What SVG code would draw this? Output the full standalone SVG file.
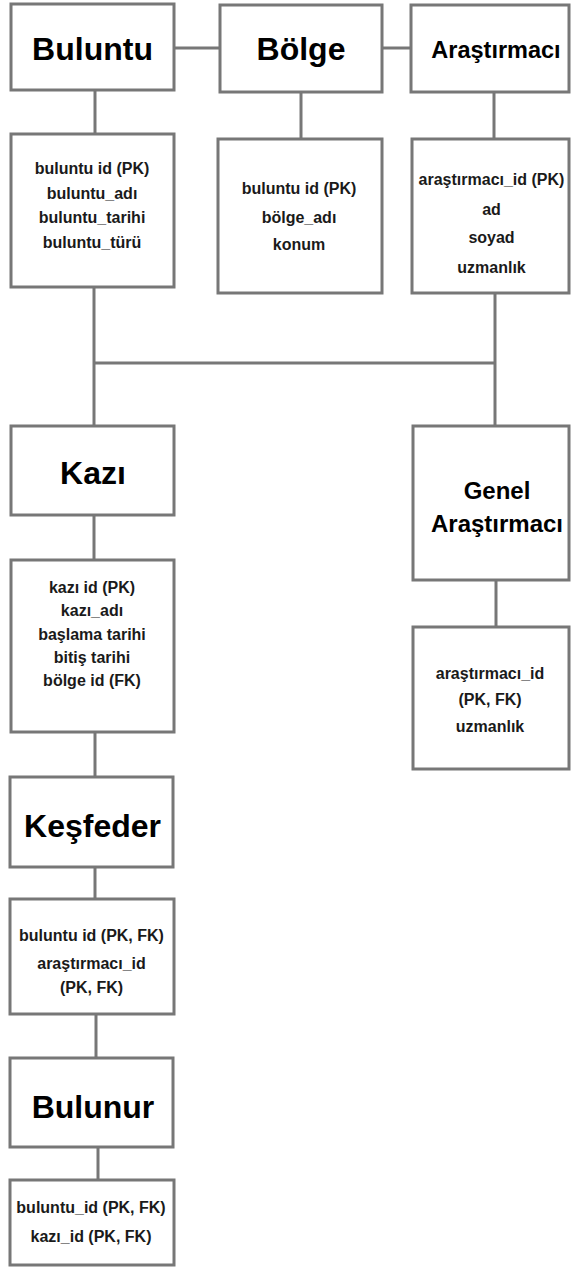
<svg xmlns="http://www.w3.org/2000/svg" width="571" height="1267" viewBox="0 0 571 1267">
<style>
.box{fill:#fff;stroke:#777;stroke-width:3}
.con{fill:none;stroke:#777;stroke-width:3}
.title{font-family:"Liberation Sans",Arial,sans-serif;font-weight:bold;fill:#000;text-anchor:middle}
.t32{font-size:32px}
.t24{font-size:24px}
.attr{font-family:"Liberation Sans",Arial,sans-serif;font-weight:bold;font-size:16px;fill:#1a1a1a;text-anchor:middle}
</style>
<rect width="571" height="1267" fill="#fff"/>
<g id="connectors">
<path class="con" d="M174 48H220"/>
<path class="con" d="M382 48H411"/>
<path class="con" d="M95 90V134"/>
<path class="con" d="M301 92V139"/>
<path class="con" d="M494 92V139"/>
<path class="con" d="M94 287V426"/>
<path class="con" d="M495 293V426"/>
<path class="con" d="M94 363H495"/>
<path class="con" d="M94 515V560"/>
<path class="con" d="M496 580V627"/>
<path class="con" d="M95 732V777"/>
<path class="con" d="M95 867V899"/>
<path class="con" d="M96 1014V1058"/>
<path class="con" d="M98 1147V1180"/>
</g>
<g id="buluntu">
<rect class="box" x="11" y="4" width="163" height="86"/>
<text class="title t32" x="92.5" y="59.5">Buluntu</text>
</g>
<g id="bolge">
<rect class="box" x="220" y="5" width="162" height="87"/>
<text class="title t32" x="301" y="59.5">Bölge</text>
</g>
<g id="arastirmaci">
<rect class="box" x="411" y="5" width="158" height="87"/>
<text class="title" style="font-size:23.5px" x="496" y="57.5">Araştırmacı</text>
</g>
<g id="buluntu-attr">
<rect class="box" x="11" y="134" width="163" height="153"/>
<text class="attr" x="92" y="173.6">buluntu id (PK)</text>
<text class="attr" x="92" y="198.6">buluntu_adı</text>
<text class="attr" x="92" y="222.6">buluntu_tarihi</text>
<text class="attr" x="92" y="247.6">buluntu_türü</text>
</g>
<g id="bolge-attr">
<rect class="box" x="218" y="139" width="164" height="154"/>
<text class="attr" x="299" y="193.6">buluntu id (PK)</text>
<text class="attr" x="299" y="222.6">bölge_adı</text>
<text class="attr" x="299" y="249.6">konum</text>
</g>
<g id="arastirmaci-attr">
<rect class="box" x="412" y="139" width="157" height="154"/>
<text class="attr" x="491.5" y="184.6">araştırmacı_id (PK)</text>
<text class="attr" x="491.5" y="214.6">ad</text>
<text class="attr" x="491.5" y="242.6">soyad</text>
<text class="attr" x="491.5" y="272.6">uzmanlık</text>
</g>
<g id="kazi">
<rect class="box" x="11" y="426" width="163" height="89"/>
<text class="title t32" x="93" y="483.5">Kazı</text>
</g>
<g id="genel-arastirmaci">
<rect class="box" x="413" y="426" width="156" height="154"/>
<text class="title t24" x="497" y="498.6">Genel</text>
<text class="title t24" x="497" y="531.6">Araştırmacı</text>
</g>
<g id="kazi-attr">
<rect class="box" x="11" y="560" width="163" height="172"/>
<text class="attr" x="92" y="592.6">kazı id (PK)</text>
<text class="attr" x="92" y="615.6">kazı_adı</text>
<text class="attr" x="92" y="639.6">başlama tarihi</text>
<text class="attr" x="92" y="662.6">bitiş tarihi</text>
<text class="attr" x="92" y="685.6">bölge id (FK)</text>
</g>
<g id="genel-attr">
<rect class="box" x="413" y="627" width="156" height="142"/>
<text class="attr" x="490" y="678.6">araştırmacı_id</text>
<text class="attr" x="490" y="704.6">(PK, FK)</text>
<text class="attr" x="490" y="731.6">uzmanlık</text>
</g>
<g id="kesfeder">
<rect class="box" x="10" y="777" width="163" height="90"/>
<text class="title t32" x="92.5" y="836.5">Keşfeder</text>
</g>
<g id="kesfeder-attr">
<rect class="box" x="10" y="899" width="164" height="115"/>
<text class="attr" x="91.5" y="940.6">buluntu id (PK, FK)</text>
<text class="attr" x="91.5" y="968.6">araştırmacı_id</text>
<text class="attr" x="91.5" y="992.6">(PK, FK)</text>
</g>
<g id="bulunur">
<rect class="box" x="10" y="1058" width="163" height="89"/>
<text class="title t32" x="93" y="1117.5">Bulunur</text>
</g>
<g id="bulunur-attr">
<rect class="box" x="10" y="1180" width="164" height="85"/>
<text class="attr" x="91" y="1212.6">buluntu_id (PK, FK)</text>
<text class="attr" x="91" y="1241.6">kazı_id (PK, FK)</text>
</g>
</svg>
